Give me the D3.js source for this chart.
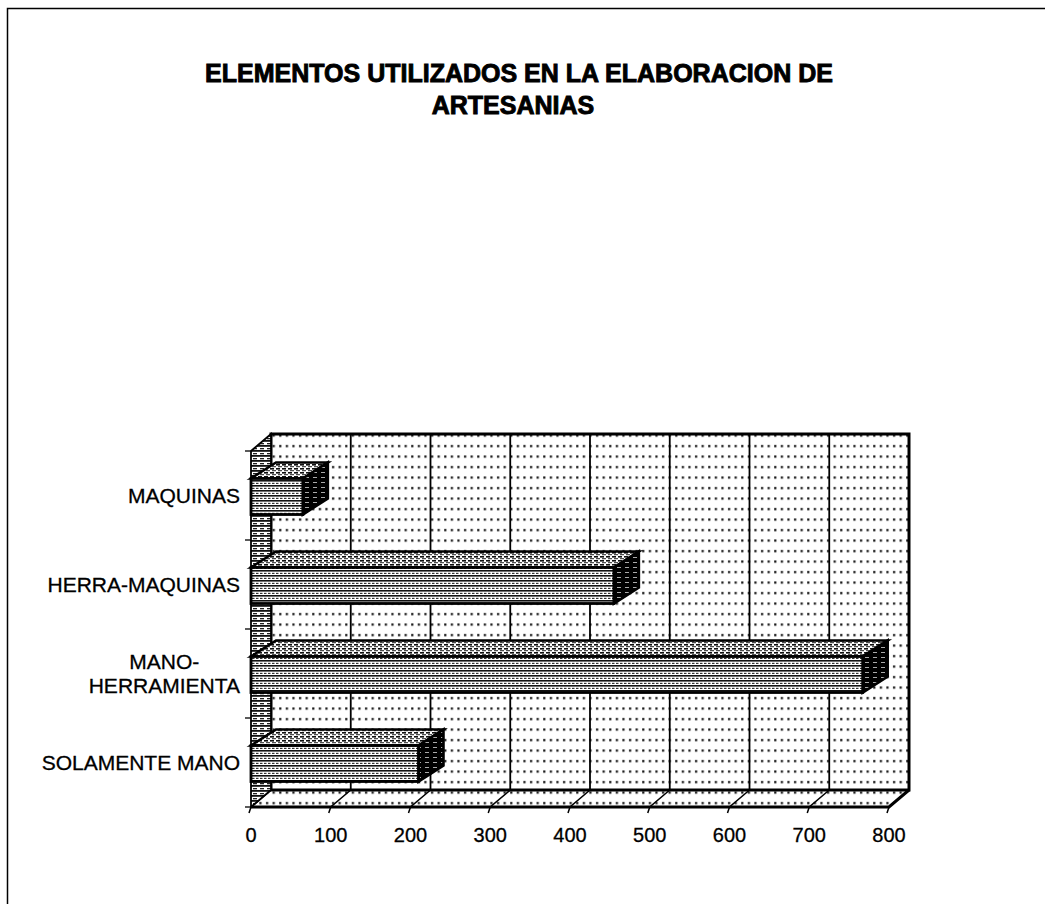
<!DOCTYPE html>
<html>
<head>
<meta charset="utf-8">
<script src="https://cdn.jsdelivr.net/npm/d3@7"></script>
<style>
  body { margin: 0; background: #fff; }
  svg { display: block; }
</style>
</head>
<body>
<script>
// data (bottom bar first)
const categories = ["SOLAMENTE MANO", "MANO-HERRAMIENTA", "HERRA-MAQUINAS", "MAQUINAS"];
const values = [210, 767, 455, 65];
const xTicks = [0, 100, 200, 300, 400, 500, 600, 700, 800];
const titleLines = ["ELEMENTOS UTILIZADOS EN LA ELABORACION DE", "ARTESANIAS"];

const width = 1045, height = 904;
const svg = d3.select("body").append("svg")
    .attr("width", width)
    .attr("height", height);

// 3d offsets
const dx = 20, dy = -17;     // walls
const bdx = 25, bdy = -16;   // bars

const x = d3.scaleLinear().domain([0, 800]).range([251, 889]);
const y = d3.scaleBand().domain(categories).range([807, 451]);

// patterns
const defs = svg.append("defs");

const dotPat = defs.append("pattern").attr("id", "dots")
    .attr("patternUnits", "userSpaceOnUse").attr("width", 6.6).attr("height", 10.5);
dotPat.append("rect").attr("width", 6.6).attr("height", 10.5).attr("fill", "#fff");
dotPat.append("rect").attr("x", 2).attr("y", 4).attr("width", 2.2).attr("height", 2.2).attr("fill", "#111");

const wallPat = defs.append("pattern").attr("id", "wall")
    .attr("patternUnits", "userSpaceOnUse").attr("width", 7).attr("height", 5);
wallPat.append("rect").attr("width", 7).attr("height", 5).attr("fill", "#fff");
wallPat.append("rect").attr("x", 0).attr("y", 0).attr("width", 7).attr("height", 1.8).attr("fill", "#111");
wallPat.append("rect").attr("x", 1).attr("y", 3).attr("width", 4).attr("height", 1.3).attr("fill", "#222");

const frontPat = defs.append("pattern").attr("id", "front")
    .attr("patternUnits", "userSpaceOnUse").attr("width", 8).attr("height", 5);
frontPat.append("rect").attr("width", 8).attr("height", 5).attr("fill", "#fff");
frontPat.append("rect").attr("y", 0).attr("width", 8).attr("height", 1.6).attr("fill", "#111");
frontPat.append("rect").attr("x", 0).attr("y", 2.8).attr("width", 2.5).attr("height", 1.2).attr("fill", "#333");
frontPat.append("rect").attr("x", 4).attr("y", 2.8).attr("width", 2.5).attr("height", 1.2).attr("fill", "#333");

const topPat = defs.append("pattern").attr("id", "topface")
    .attr("patternUnits", "userSpaceOnUse").attr("width", 6).attr("height", 4);
topPat.append("rect").attr("width", 6).attr("height", 4).attr("fill", "#fff");
topPat.append("rect").attr("y", 0).attr("width", 4).attr("height", 1.6).attr("fill", "#111");
topPat.append("rect").attr("x", 2).attr("y", 2.2).attr("width", 4).attr("height", 1).attr("fill", "#222");

const sidePat = defs.append("pattern").attr("id", "side")
    .attr("patternUnits", "userSpaceOnUse").attr("width", 8).attr("height", 5);
sidePat.append("rect").attr("width", 8).attr("height", 5).attr("fill", "#000");
sidePat.append("rect").attr("x", 1).attr("y", 2).attr("width", 4).attr("height", 1).attr("fill", "#aaa");

// outer frame
svg.append("rect")
    .attr("x", 7.5).attr("y", 8.5)
    .attr("width", 1100).attr("height", 1000)
    .attr("fill", "none").attr("stroke", "#000").attr("stroke-width", 1.5);

// title
svg.append("g").selectAll("text")
    .data(titleLines)
    .enter()
    .append("text")
    .attr("x", (d, i) => i === 0 ? 519 : 513)
    .attr("y", (d, i) => 82 + i * 32)
    .attr("text-anchor", "middle")
    .attr("font-family", "Liberation Sans, Arial, sans-serif")
    .attr("font-weight", "bold")
    .attr("font-size", 25)
    .attr("stroke", "#000")
    .attr("stroke-width", 0.9)
    .text(d => d);

const x0 = x(0), x1 = x(800);
const yTop = y.range()[1], yBot = y.range()[0];

// back wall
svg.append("rect")
    .attr("x", x0 + dx).attr("y", yTop + dy)
    .attr("width", x1 - x0).attr("height", yBot - yTop)
    .attr("fill", "url(#dots)");

// floor
svg.append("path")
    .attr("d", `M${x0},${yBot} L${x0 + dx},${yBot + dy} L${x1 + dx},${yBot + dy} L${x1},${yBot} Z`)
    .attr("fill", "url(#dots)")
    .attr("stroke", "#000").attr("stroke-width", 1);

// back wall gridlines
svg.append("g").selectAll("line")
    .data(xTicks.slice(1, -1))
    .enter()
    .append("line")
    .attr("x1", d => x(d) + dx).attr("x2", d => x(d) + dx)
    .attr("y1", yTop + dy).attr("y2", yBot + dy)
    .attr("stroke", "#000").attr("stroke-width", 1.8);

// floor gridlines + ticks
svg.append("g").selectAll("path")
    .data(xTicks)
    .enter()
    .append("path")
    .attr("d", d => `M${x(d) - 2},${yBot + 6} L${x(d)},${yBot} L${x(d) + dx},${yBot + dy}`)
    .attr("fill", "none")
    .attr("stroke", "#000").attr("stroke-width", 1.5);

// back wall outline
svg.append("rect")
    .attr("x", x0 + dx).attr("y", yTop + dy)
    .attr("width", x1 - x0).attr("height", yBot - yTop)
    .attr("fill", "none").attr("stroke", "#000").attr("stroke-width", 3);

// left wall
svg.append("path")
    .attr("d", `M${x0},${yTop} L${x0 + dx},${yTop + dy} L${x0 + dx},${yBot + dy} L${x0},${yBot} Z`)
    .attr("fill", "url(#wall)")
    .attr("stroke", "#000").attr("stroke-width", 1.8);

// floor front edge and right edge
svg.append("path")
    .attr("d", `M${x0},${yBot} L${x1},${yBot} L${x1 + dx},${yBot + dy}`)
    .attr("fill", "none").attr("stroke", "#000").attr("stroke-width", 3);

// left axis ticks at band edges
const edges = categories.map(c => y(c) + y.bandwidth()).concat([yTop]);
svg.append("g").selectAll("line")
    .data(edges)
    .enter()
    .append("line")
    .attr("x1", x0 - 6).attr("x2", x0)
    .attr("y1", d => d).attr("y2", d => d)
    .attr("stroke", "#000").attr("stroke-width", 1.3);

// bars
const bars = svg.append("g").selectAll("g")
    .data(categories.map((c, i) => ({ cat: c, v: values[i] })))
    .enter()
    .append("g");

const fy = d => y(d.cat) + y.bandwidth() / 2 - 17;  // front face top
const bh = 36;

bars.append("path")  // top face
    .attr("d", d => `M${x0},${fy(d)} L${x0 + bdx},${fy(d) + bdy} L${x(d.v) + bdx},${fy(d) + bdy} L${x(d.v)},${fy(d)} Z`)
    .attr("fill", "url(#topface)")
    .attr("stroke", "#000").attr("stroke-width", 2.6);

bars.append("path")  // side face
    .attr("d", d => `M${x(d.v)},${fy(d)} L${x(d.v) + bdx},${fy(d) + bdy} L${x(d.v) + bdx},${fy(d) + bdy + bh} L${x(d.v)},${fy(d) + bh} Z`)
    .attr("fill", "url(#side)")
    .attr("stroke", "#000").attr("stroke-width", 2.6);

bars.append("rect")  // front face
    .attr("x", x0)
    .attr("y", d => fy(d))
    .attr("width", d => x(d.v) - x0)
    .attr("height", bh)
    .attr("fill", "url(#front)")
    .attr("stroke", "#000").attr("stroke-width", 2.8);

// category labels
function wrapLabel(s) {
    const i = s.indexOf("-");
    return (s.length > 15 && i > 0) ? [s.slice(0, i + 1), s.slice(i + 1)] : [s];
}

const labels = svg.append("g")
    .attr("font-family", "Liberation Sans, Arial, sans-serif")
    .attr("font-size", 21)
    .attr("fill", "#000")
    .attr("stroke", "#000")
    .attr("stroke-width", 0.3);

categories.forEach(c => {
    const lines = wrapLabel(c);
    const cy = y(c) + y.bandwidth() / 2;
    const t = labels.append("text")
        .attr("y", cy + 7 - (lines.length - 1) * 12);
    t.selectAll("tspan")
        .data(lines)
        .enter()
        .append("tspan")
        .attr("x", 240)
        .attr("dy", (d, i) => i === 0 ? 0 : 24)
        .attr("text-anchor", "end")
        .text(d => d);
    if (lines.length > 1) {
        // center the wrapped lines over each other
        const widths = [];
        t.selectAll("tspan").each(function () { widths.push(this.getComputedTextLength()); });
        const maxW = d3.max(widths);
        t.selectAll("tspan")
            .attr("text-anchor", "middle")
            .attr("x", 240 - maxW / 2);
    }
});

// x axis labels
svg.append("g").selectAll("text")
    .data(xTicks)
    .enter()
    .append("text")
    .attr("x", d => x(d))
    .attr("y", 842)
    .attr("text-anchor", "middle")
    .attr("font-family", "Liberation Sans, Arial, sans-serif")
    .attr("font-size", 20)
    .attr("stroke", "#000")
    .attr("stroke-width", 0.3)
    .text(d => d);
</script>
</body>
</html>
